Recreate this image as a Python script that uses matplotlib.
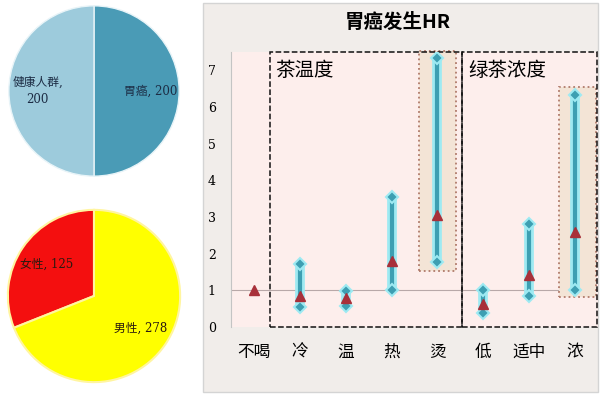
import matplotlib
matplotlib.use("Agg")
import matplotlib.pyplot as plt
from matplotlib.patches import Rectangle

plt.rcParams['font.family'] = ['Noto Sans CJK SC', 'DejaVu Sans']

# pies
pie1_labels = ['胃癌, 200', '健康人群,\n200']
pie1_values = [200, 200]
pie2_labels = ['女性, 125', '男性, 278']
pie2_values = [125, 278]

# HR chart
cats = ['不喝', '冷', '温', '热', '烫', '低', '适中', '浓']
hr = [1.0, 0.84, 0.80, 1.80, 3.05, 0.63, 1.43, 2.58]
lower = [None, 0.55, 0.58, 1.0, 1.77, 0.37, 0.84, 1.0]
upper = [None, 1.73, 0.98, 3.55, 7.35, 1.02, 2.80, 6.32]

W, H = 601, 396
fig = plt.figure(figsize=(W / 100, H / 100), dpi=100)
label_font = ['DejaVu Serif', 'Noto Sans CJK SC']

def px_axes(x0, y0, x1, y1):
    return fig.add_axes([x0 / W, 1 - y1 / H, (x1 - x0) / W, (y1 - y0) / H])

# top pie
ax1 = px_axes(8, 5, 180, 177)
w, t = ax1.pie(pie1_values, labels=pie1_labels, colors=['#4a9bb6', '#9dcbdc'],
               startangle=90, counterclock=False, labeldistance=0.66,
               wedgeprops=dict(edgecolor='#e8f4f8', linewidth=1),
               textprops=dict(fontsize=8.5, color='#1c2c44', family=label_font))
for tt in t:
    tt.set_ha('center')
    tt.set_linespacing(1.5)
ax1.set_xlim(-1.01, 1.01)
ax1.set_ylim(-1.01, 1.01)

# bottom pie
ax2 = px_axes(7, 209, 181, 383)
w, t = ax2.pie(pie2_values, labels=pie2_labels, colors=['#f40f0f', '#ffff00'],
               startangle=90, counterclock=True, labeldistance=0.66,
               wedgeprops=dict(edgecolor='#fff5a0', linewidth=1.5),
               textprops=dict(fontsize=8.5, color='#2a1a10', family=label_font))
for tt in t:
    tt.set_ha('center')
ax2.set_xlim(-1.01, 1.01)
ax2.set_ylim(-1.01, 1.01)

# right panel background
panel = Rectangle((203 / W, 1 - 392 / H), 395 / W, 389 / H,
                  transform=fig.transFigure, facecolor='#f1edea',
                  edgecolor='#d4d4d4', linewidth=1, zorder=-5)
fig.patches.append(panel)
fig.text(398 / W, 1 - 22 / H, '胃癌发生HR', fontsize=14, fontweight='bold',
         ha='center', va='center')

ax = px_axes(231, 52, 598, 327)
ax.set_facecolor('#fdeeec')
ax.set_xlim(-0.5, 7.5)
ax.set_ylim(0, 7.5)
for s in ['top', 'right', 'bottom']:
    ax.spines[s].set_visible(False)
ax.spines['left'].set_color('#c4c4c4')
ax.set_yticks(range(8))
ax.set_yticklabels([str(i) for i in range(8)], family='DejaVu Serif', fontsize=9)
ax.tick_params(axis='y', length=0, pad=11)
ax.set_xticks(range(len(cats)))
ax.set_xticklabels(cats, fontsize=12, fontweight='medium')
ax.tick_params(axis='x', length=0, pad=12)
ax.axhline(1, color='#b8a8a8', lw=0.8, zorder=1)

# highlight boxes
ax.add_patch(Rectangle((3.6, 1.52), 0.8, 6.0, facecolor='#f3e4d6', edgecolor='#b07a6a',
                       linestyle=':', linewidth=1.3, zorder=1, clip_on=False))
ax.add_patch(Rectangle((6.65, 0.83), 0.8, 5.72, facecolor='#f3e4d6', edgecolor='#b07a6a',
                       linestyle=':', linewidth=1.3, zorder=1, clip_on=False))
# group boxes
ax.add_patch(Rectangle((0.35, 0), 4.19, 7.5, fill=False, edgecolor='#111111',
                       linestyle='--', linewidth=1.1, zorder=2, clip_on=False))
ax.add_patch(Rectangle((4.54, 0), 2.94, 7.5, fill=False, edgecolor='#111111',
                       linestyle='--', linewidth=1.1, zorder=2, clip_on=False))
ax.text(0.47, 7.0, '茶温度', fontsize=14, va='center')
ax.text(4.68, 7.0, '绿茶浓度', fontsize=14, va='center')

for i in range(len(cats)):
    if lower[i] is not None:
        ax.vlines(i, lower[i], upper[i], color='#9eeaf2', lw=7, zorder=3)
        ax.vlines(i, lower[i], upper[i], color='#3d9fb2', lw=3, zorder=4)
        ax.plot([i, i], [lower[i], upper[i]], 'D', color='#3d9fb2', ms=6,
                mec='#9eeaf2', mew=1.5, zorder=5)
ax.plot(range(len(cats)), hr, '^', color='#a8303a', ms=7, linestyle='none', zorder=6)

fig.savefig('out.png', dpi=100)
